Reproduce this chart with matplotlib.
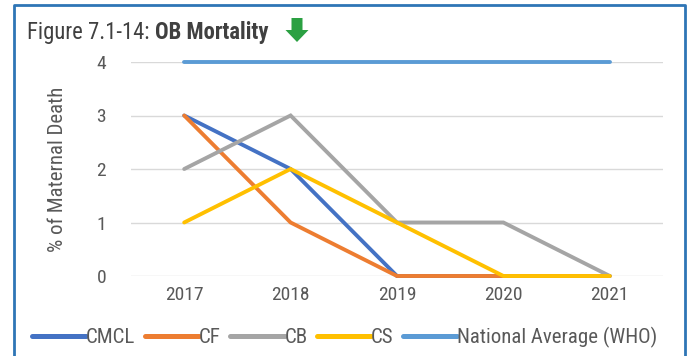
import matplotlib
matplotlib.use("Agg")
import matplotlib.pyplot as plt
from matplotlib import font_manager
from matplotlib.patches import FancyArrow
from matplotlib.lines import Line2D
from matplotlib.transforms import IdentityTransform

# OB mortality, % of maternal death per year
years = ["2017", "2018", "2019", "2020", "2021"]
cmcl = [3, 2, 0, 0, 0]
cf = [3, 1, 0, 0, 0]
cb = [2, 3, 1, 1, 0]
cs = [1, 2, 1, 0, 0]
who = [4, 4, 4, 4, 4]

series_names = ["CMCL", "CF", "CB", "CS", "National Average (WHO)"]
colors = ["#4472C4", "#ED7D31", "#A5A5A5", "#FFC000", "#5B9BD5"]

# prefer a narrow sans if one is installed
installed = {f.name for f in font_manager.fontManager.ttflist}
narrow = [f for f in ["Liberation Sans Narrow", "Arial Narrow", "Roboto Condensed",
                      "Open Sans Condensed"] if f in installed]
plt.rcParams["font.family"] = narrow[:1] + ["Liberation Sans", "DejaVu Sans"]
text_col = "#595959"

W, H = 691, 356
fig = plt.figure(figsize=(W / 100, H / 100), dpi=100)
ax = fig.add_axes([131 / W, 1 - 276 / H, 532 / W, 214 / H])

x = range(len(years))
for vals, name, c in zip([cmcl, cf, cb, cs, who], series_names, colors):
    ax.plot(x, vals, color=c, lw=2.8, label=name, clip_on=False,
            solid_capstyle="round", solid_joinstyle="miter")

ax.set_xlim(-0.5, len(years) - 0.5)
ax.set_ylim(0, 4)
ax.set_yticks(range(0, 5))
ax.set_xticks(list(x))
ax.set_xticklabels(years)
ax.grid(axis="y", color="#D9D9D9", lw=1)
ax.set_axisbelow(True)
for s in ax.spines.values():
    s.set_visible(False)
ax.tick_params(length=0, labelsize=14, colors=text_col, pad=7)
ax.tick_params(axis="y", pad=18)
ax.set_ylabel("% of Maternal Death", fontsize=15, color=text_col, labelpad=21)

leg = fig.legend(*ax.get_legend_handles_labels(), loc="center left",
                 bbox_to_anchor=(32 / W, 1 - 337 / H), ncol=5, frameon=False,
                 fontsize=15, handlelength=2.6, handletextpad=0.0, columnspacing=0.45,
                 labelcolor=text_col, borderaxespad=0, borderpad=0)
for h in leg.get_lines():
    h.set_linewidth(3.6)

# title with bold part
t1 = fig.text(27 / W, 1 - 32 / H, "Figure 7.1-14: ", fontsize=16.3, color="#404040",
              va="center", ha="left")
fig.canvas.draw()
bb = t1.get_window_extent()
fig.text(bb.x1 / W, 1 - 32 / H, "OB Mortality", fontsize=16.3, color="#404040",
         weight="bold", va="center", ha="left")

# green down arrow next to title
px = IdentityTransform()
arrow = FancyArrow(297, H - 18, 0, -24, width=11, head_width=23, head_length=12,
                   length_includes_head=True, color="#2BA042", lw=0,
                   transform=px, figure=fig)
fig.patches.append(arrow)

# blue frame: left, top and right edges
frame_x = [14 / W, 14 / W, 685 / W, 685 / W]
frame_y = [-0.1, 1 - 5 / H, 1 - 5 / H, -0.1]
fig.lines.append(Line2D(frame_x, frame_y, transform=fig.transFigure, color="#2E75B6",
                        lw=2, solid_joinstyle="round", figure=fig))

fig.savefig("out.png", dpi=100)
